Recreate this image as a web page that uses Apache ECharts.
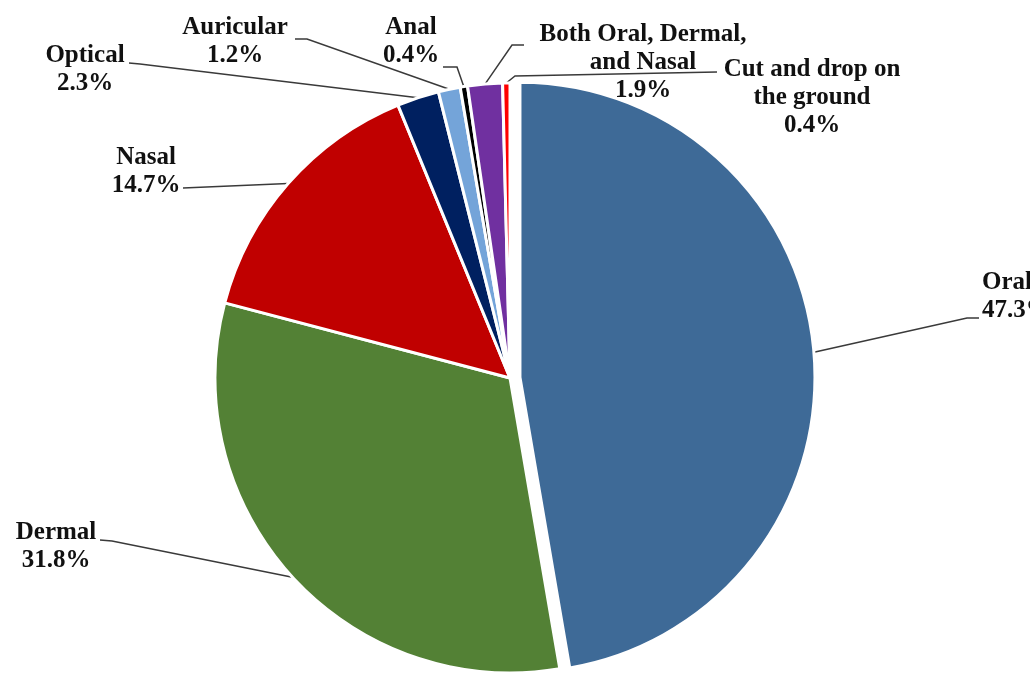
<!DOCTYPE html>
<html>
<head>
<meta charset="utf-8">
<script src="https://cdn.jsdelivr.net/npm/echarts@6/dist/echarts.min.js"></script>
<style>
  html, body { margin: 0; padding: 0; background: #fff; }
  #chart { width: 1030px; height: 678px; }
</style>
</head>
<body>
<div id="chart"></div>
<script>
// Routes of exposure, share of respondents (%)
const routes = [
  'Oral',
  'Dermal',
  'Nasal',
  'Optical',
  'Auricular',
  'Anal',
  'Both Oral, Dermal,\nand Nasal',
  'Cut and drop on\nthe ground'
];
const shares = [47.3, 31.8, 14.7, 2.3, 1.2, 0.4, 1.9, 0.4];
const sliceColors = ['#3E6A97', '#538135', '#C00000', '#002060', '#74A4D9', '#000000', '#7030A0', '#FF0000'];

// The first slice is pulled out from the rest of the pie
const pulledOut = 0;

// Label placement: text anchor plus the bend/end points of each leader line
const labelSpots = [
  { x: 982, y: 297, align: 'left',   line: [[967, 318], [979, 318]] },
  { x: 56,  y: 547, align: 'center', line: [[112, 541], [100, 540]] },
  { x: 146, y: 172, align: 'center', line: [[183, 188]] },
  { x: 85,  y: 70,  align: 'center', line: [[140, 64], [129, 63]] },
  { x: 235, y: 42,  align: 'center', line: [[307, 39], [295, 39]] },
  { x: 411, y: 42,  align: 'center', line: [[457, 67], [443, 67]] },
  { x: 643, y: 63,  align: 'center', line: [[512, 45], [524, 45]] },
  { x: 812, y: 98,  align: 'center', line: [[515, 76], [717, 72]] }
];

const pieCenter = [510, 378];
const pieRadius = 295;
const pullDistance = 10;

// offset of the pulled-out slice along its middle angle (clockwise from 12 o'clock)
const total = shares.reduce((a, b) => a + b, 0);
let before = 0;
for (let i = 0; i < pulledOut; i++) before += shares[i];
const midAngle = ((before + shares[pulledOut] / 2) / total) * 2 * Math.PI;
const pulledCenter = [
  pieCenter[0] + pullDistance * Math.sin(midAngle),
  pieCenter[1] - pullDistance * Math.cos(midAngle)
];

const chart = echarts.init(document.getElementById('chart'), null, { renderer: 'canvas' });

const hiddenItem = {
  itemStyle: { color: 'rgba(0,0,0,0)', borderColor: 'rgba(0,0,0,0)', borderWidth: 0 },
  label: { show: false },
  labelLine: { show: false }
};

function buildData(showPulled) {
  return routes.map((name, i) => {
    const visible = (i === pulledOut) === showPulled;
    const item = { name: name, value: shares[i] };
    if (visible) {
      item.itemStyle = { color: sliceColors[i] };
    } else {
      Object.assign(item, JSON.parse(JSON.stringify(hiddenItem)));
    }
    return item;
  });
}

function layoutLabel(params) {
  const spot = labelSpots[params.dataIndex];
  const start = params.labelLinePoints ? params.labelLinePoints[0] : null;
  const out = { x: spot.x, y: spot.y, align: spot.align, verticalAlign: 'middle' };
  if (start) out.labelLinePoints = [start].concat(spot.line);
  return out;
}

const baseSeries = {
  type: 'pie',
  radius: pieRadius,
  startAngle: 90,
  clockwise: true,
  avoidLabelOverlap: false,
  silent: true,
  itemStyle: { borderColor: '#ffffff', borderWidth: 3 },
  label: {
    show: true,
    position: 'outside',
    formatter: '{b}\n{c}%',
    color: '#111111',
    fontFamily: '"Liberation Serif", "Times New Roman", serif',
    fontWeight: 'bold',
    fontSize: 25,
    lineHeight: 28
  },
  labelLine: {
    show: true,
    length: 20,
    length2: 10,
    lineStyle: { color: '#3a3a3a', width: 1.5 }
  },
  labelLayout: layoutLabel,
  emphasis: { disabled: true }
};

chart.setOption({
  animation: false,
  backgroundColor: '#ffffff',
  series: [
    Object.assign({}, baseSeries, { center: pieCenter, data: buildData(false) }),
    Object.assign({}, baseSeries, { center: pulledCenter, data: buildData(true) })
  ]
});
</script>
</body>
</html>
